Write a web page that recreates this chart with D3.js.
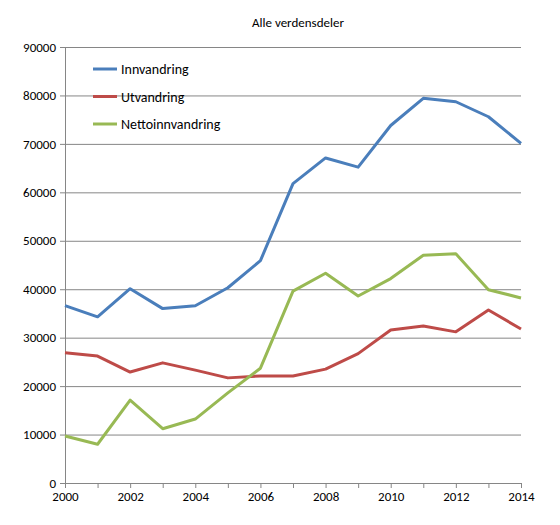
<!DOCTYPE html>
<html><head><meta charset="utf-8">
<script src="https://cdn.jsdelivr.net/npm/d3@7"></script>
<style>body{margin:0;background:#fff}text{font-family:Calibri,Carlito,"Liberation Sans",Arial,sans-serif}</style>
</head><body><svg id="c" width="560" height="525"></svg>
<script>
var years = [2000,2001,2002,2003,2004,2005,2006,2007,2008,2009,2010,2011,2012,2013,2014];
var innvandring = [36600,34300,40100,36000,36600,40300,45900,61800,67100,65200,73800,79400,78700,75600,70100];
var utvandring = [26900,26200,22900,24800,23300,21700,22100,22100,23500,26700,31600,32400,31200,35700,31800];
var netto = [9700,8000,17100,11200,13200,18600,23700,39600,43300,38600,42200,47000,47300,39900,38200];
var yTicks = [0,10000,20000,30000,40000,50000,60000,70000,80000,90000];
var xTicks = [2000,2002,2004,2006,2008,2010,2012,2014];
var series = [
  {name: "Innvandring", values: innvandring, color: "#4a7ebb"},
  {name: "Utvandring", values: utvandring, color: "#be4b48"},
  {name: "Nettoinnvandring", values: netto, color: "#98b954"}
];

var svg = d3.select("#c");
var x = d3.scaleLinear().domain([2000,2014]).range([65,521]);
var y = d3.scaleLinear().domain([0,90000]).range([483,47]);

// grid
svg.selectAll(".grid").data(yTicks).enter().append("line")
  .attr("x1",65).attr("x2",521)
  .attr("y1",function(d){return y(d)+0.5;}).attr("y2",function(d){return y(d)+0.5;})
  .style("stroke","#868686").style("stroke-width",1);
svg.append("line").attr("x1",65.5).attr("x2",65.5).attr("y1",47).attr("y2",483)
  .style("stroke","#868686");

var yAxis = svg.append("g").attr("transform","translate(65,0)")
  .call(d3.axisLeft(y).tickValues(yTicks).tickSize(5).tickFormat(d3.format("d")));
var xAxis = svg.append("g").attr("transform","translate(0,483)")
  .call(d3.axisBottom(x).tickValues(years).tickSize(5).tickFormat(function(d){return xTicks.indexOf(d)>=0 ? d : "";}));
[yAxis,xAxis].forEach(function(a){
  a.select(".domain").remove();
  a.selectAll("line").style("stroke","#868686");
  a.selectAll("text").style("font-size","13px").style("fill","#000");
});
yAxis.selectAll("text").attr("x",-9);
xAxis.selectAll("text").attr("y",9);

var line = d3.line().x(function(d,i){return x(years[i]);}).y(function(d){return y(d);});
series.forEach(function(s){
  svg.append("path").datum(s.values).attr("d",line)
    .style("fill","none").style("stroke",s.color).style("stroke-width",3)
    .style("stroke-linejoin","round");
});

svg.append("text").attr("x",298).attr("y",27).attr("text-anchor","middle")
  .style("font-size","13px").text("Alle verdensdeler");

var leg = svg.selectAll(".leg").data(series).enter().append("g")
  .attr("transform",function(d,i){return "translate(93,"+(69+i*27.5)+")";});
leg.append("line").attr("x1",0).attr("x2",24).style("stroke",function(d){return d.color;}).style("stroke-width",3);
leg.append("text").attr("x",28).attr("y",5).style("font-size","14px").text(function(d){return d.name;});
</script></body></html>
